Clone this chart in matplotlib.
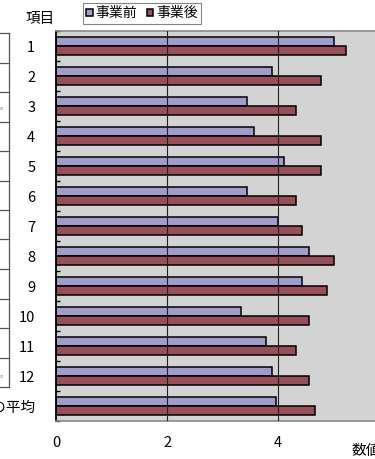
import numpy as np
import matplotlib
matplotlib.use('Agg')
import matplotlib.pyplot as plt
from matplotlib.lines import Line2D

plt.rcParams['font.family'] = ['Noto Sans CJK JP', 'DejaVu Sans']

categories = ['1', '2', '3', '4', '5', '6', '7', '8', '9', '10', '11', '12', '全体の平均']
before = [5.00, 3.89, 3.44, 3.56, 4.11, 3.44, 4.00, 4.56, 4.44, 3.33, 3.78, 3.89, 3.96]
after = [5.22, 4.78, 4.33, 4.78, 4.78, 4.33, 4.44, 5.00, 4.89, 4.56, 4.33, 4.56, 4.67]
series_names = ['事業前', '事業後']
x_ticks = [0, 2, 4]

W, H = 375, 459
fig = plt.figure(figsize=(W / 100, H / 100), dpi=100)
# the plot area runs past the right edge (x axis goes to 6, cropped in the reference)
ax = fig.add_axes([56 / W, 1 - 421 / H, 333 / W, 390 / H])
ax.set_facecolor('#d3d3d3')

y = np.arange(len(categories))
bh = 0.3
b1 = ax.barh(y - bh / 2, before, height=bh, color='#a09ccc', edgecolor='black',
             linewidth=1.1, label=series_names[0], zorder=2)
b2 = ax.barh(y + bh / 2, after, height=bh, color='#974f5a', edgecolor='black',
             linewidth=1.1, label=series_names[1], zorder=2)

ax.set_xlim(0, 6)
ax.set_ylim(len(categories) - 0.5, -0.5)
ax.set_xticks(x_ticks)
ax.set_xticklabels([str(t) for t in x_ticks], fontsize=10.5)
ax.tick_params(axis='x', length=0, pad=11)
for t in x_ticks[1:]:
    ax.axvline(t, color='#222222', linewidth=0.8, zorder=3)

ax.set_yticks(y)
ax.set_yticklabels(categories, fontsize=10.5)
ax.tick_params(axis='y', which='major', length=0, pad=15)
ax.set_yticks(np.arange(len(categories) + 1) - 0.5, minor=True)
ax.tick_params(axis='y', which='minor', direction='in', length=3, width=1, color='black')

ax.spines['left'].set_color('black')
ax.spines['left'].set_linewidth(1.3)
ax.spines['top'].set_color('#8a8a8a')
ax.spines['bottom'].set_color('#8a8a8a')
ax.spines['top'].set_linewidth(1.2)
ax.spines['bottom'].set_linewidth(1.2)
ax.spines['right'].set_color('#8a8a8a')

fig.text(40 / W, 1 - 19 / H, '項目', fontsize=10.5, ha='center', va='center')
fig.text(351 / W, 1 - 451 / H, '数値', fontsize=10.5, ha='left', va='center')

leg = fig.legend(handles=[b1, b2], loc='upper left', bbox_to_anchor=(83 / W, 1 - 3 / H),
                 ncol=2, fontsize=10, frameon=True, fancybox=False, borderpad=0.25,
                 handlelength=0.45, handleheight=0.45, handletextpad=0.2,
                 columnspacing=0.7, borderaxespad=0)
leg.get_frame().set_edgecolor('#666666')
leg.get_frame().set_linewidth(0.8)

# fragment of the neighbouring table on the left edge
table_top, table_bottom, rows = 33, 387, 12
row_h = (table_bottom - table_top) / rows
fig.add_artist(Line2D([9 / W, 9 / W], [1 - table_top / H, 1 - table_bottom / H],
                      color='#555555', linewidth=0.9))
for i in range(rows + 1):
    yy = 1 - (table_top + i * row_h) / H
    fig.add_artist(Line2D([0, 9 / W], [yy, yy], color='#555555', linewidth=0.9))
fig.text(0, 1 - 107 / H, '。', fontsize=6, color='#888888', ha='left', va='center')
fig.text(0, 1 - 375 / H, '。', fontsize=6, color='#888888', ha='left', va='center')

fig.savefig('out.png', dpi=100)
